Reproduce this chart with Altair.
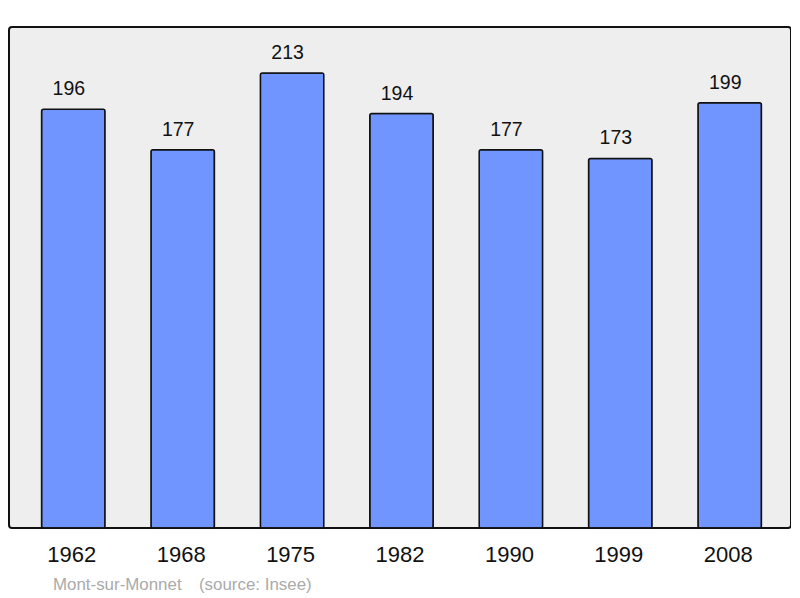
import altair as alt
import pandas as pd

years = ["1962", "1968", "1975", "1982", "1990", "1999", "2008"]
population = [196, 177, 213, 194, 177, 173, 199]
footer_texts = ["Mont-sur-Monnet", "(source: Insee)"]
footer_x = [44, 190]

df = pd.DataFrame({"year": years, "pop": population})

FONT = "Liberation Sans"

x = alt.X("year:N", sort=years,
          scale=alt.Scale(paddingInner=0.42, paddingOuter=0.284),
          axis=alt.Axis(title=None, labelAngle=0, labelFontSize=22, labelFont=FONT,
                        labelColor="#111111", domain=False, ticks=False, labelPadding=16))
y = alt.Y("pop:Q", scale=alt.Scale(domain=[0, 234.5], nice=False), axis=None)

bars = alt.Chart(df).mark_bar(color="#7095ff", stroke="#111111", strokeWidth=1.5,
                              cornerRadius=2, xOffset=1.5).encode(x=x, y=y)
labels = alt.Chart(df).mark_text(fontSize=19.5, font=FONT, dy=-14, dx=-3,
                                 baseline="alphabetic",
                                 color="#111111").encode(x=x, y=y, text="pop:Q")

foot = pd.DataFrame({"t": footer_texts, "px": footer_x})
footer = alt.Chart(foot).mark_text(fontSize=16.9, font=FONT, color="#aaaaaa",
                                   align="left", baseline="alphabetic").encode(
    x=alt.X("px:Q", scale=None, axis=None),
    y=alt.value(563), text="t:N")

chart = alt.layer(bars, labels, footer).properties(
    width=782, height=501,
    padding={"left": 1, "top": 19, "right": 0, "bottom": 0},
    background="white",
).configure_view(fill="#eeeeee", stroke="#111111", strokeWidth=2, cornerRadius=3)

chart.save("out.html", embed_options={"renderer": "svg", "actions": False})
